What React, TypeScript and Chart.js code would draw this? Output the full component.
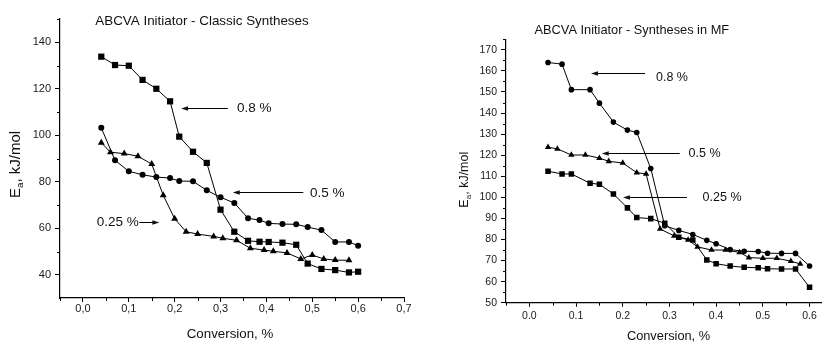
import React, { useEffect, useRef } from 'react';
import { Chart, registerables } from 'chart.js';

Chart.register(...registerables);

const FONT = "'Liberation Sans', Arial, Helvetica, sans-serif";

// ---------- Left chart: ABCVA Initiator - Classic Syntheses ----------
const classicX08 = [0.04, 0.07, 0.10, 0.13, 0.16, 0.19, 0.21, 0.24, 0.27, 0.30, 0.33, 0.36, 0.385, 0.405, 0.435, 0.465, 0.49, 0.52, 0.55, 0.58, 0.60];
const classicY08 = [133.8, 130.2, 129.9, 123.8, 120.0, 114.6, 99.4, 92.9, 88.1, 68.0, 58.5, 54.6, 54.2, 54.1, 53.8, 52.9, 44.8, 42.5, 42.0, 41.0, 41.3];
const classicX05 = [0.04, 0.07, 0.10, 0.13, 0.16, 0.19, 0.21, 0.24, 0.27, 0.30, 0.33, 0.36, 0.385, 0.405, 0.435, 0.465, 0.49, 0.52, 0.55, 0.58, 0.60];
const classicY05 = [103.2, 89.2, 84.5, 83.0, 82.0, 81.6, 80.3, 80.2, 76.3, 73.3, 70.9, 64.3, 63.5, 62.1, 61.8, 61.7, 60.5, 59.2, 54.1, 54.1, 52.5];
const classicX025 = [0.04, 0.06, 0.09, 0.12, 0.15, 0.175, 0.20, 0.225, 0.25, 0.285, 0.305, 0.335, 0.365, 0.395, 0.415, 0.445, 0.475, 0.50, 0.525, 0.55, 0.58];
const classicY025 = [96.8, 92.7, 92.1, 91.0, 87.6, 74.2, 64.1, 58.5, 57.5, 56.5, 55.7, 54.8, 51.4, 50.6, 50.1, 49.4, 46.8, 48.5, 46.8, 46.3, 46.2];
const classicXTicks = [0, 0.1, 0.2, 0.3, 0.4, 0.5, 0.6, 0.7];
const classicXMinor = [-0.05, 0.05, 0.15, 0.25, 0.35, 0.45, 0.55, 0.65];
const classicYTicks = [40, 60, 80, 100, 120, 140];
const classicYMinor = [50, 70, 90, 110, 130, 150];

// ---------- Right chart: ABCVA Initiator - Syntheses in MF ----------
const mfX08 = [0.04, 0.07, 0.09, 0.13, 0.15, 0.18, 0.21, 0.23, 0.26, 0.29, 0.32, 0.35, 0.38, 0.40, 0.43, 0.46, 0.49, 0.51, 0.54, 0.57, 0.60];
const mfY08 = [164.0, 163.2, 151.1, 151.1, 144.7, 135.7, 131.9, 130.8, 113.7, 86.5, 84.3, 82.4, 79.6, 78.0, 75.2, 74.4, 74.3, 73.5, 73.4, 73.4, 67.4];
const mfX05 = [0.04, 0.06, 0.09, 0.12, 0.15, 0.17, 0.20, 0.23, 0.25, 0.28, 0.31, 0.34, 0.36, 0.39, 0.42, 0.45, 0.47, 0.50, 0.53, 0.56, 0.58];
const mfY05 = [123.8, 123.0, 120.1, 120.1, 118.6, 117.1, 116.3, 111.7, 111.1, 85.0, 81.7, 79.8, 76.5, 75.0, 75.0, 73.9, 71.4, 71.1, 71.1, 69.7, 68.4];
const mfX025 = [0.04, 0.07, 0.09, 0.13, 0.15, 0.18, 0.21, 0.23, 0.26, 0.29, 0.32, 0.35, 0.38, 0.40, 0.43, 0.46, 0.49, 0.51, 0.54, 0.57, 0.60];
const mfY025 = [112.4, 111.1, 111.1, 106.7, 106.2, 101.6, 95.0, 90.4, 89.9, 87.7, 81.1, 79.8, 70.3, 68.5, 67.4, 66.8, 66.6, 66.1, 66.0, 66.0, 57.3];
const mfXTicks = [0, 0.1, 0.2, 0.3, 0.4, 0.5, 0.6];
const mfXMinor = [-0.05, 0.05, 0.15, 0.25, 0.35, 0.45, 0.55, 0.65];
const mfYTicks = [50, 60, 70, 80, 90, 100, 110, 120, 130, 140, 150, 160, 170];
const mfYMinor = [55, 65, 75, 85, 95, 105, 115, 125, 135, 145, 155, 165, 175];

// annotation labels (in data coordinates)
const classicNotes = [
  { text: '0.8 %', tx: 0.336, ty: 111.5, x1: 0.316, x2: 0.214, ay: 111.85 },
  { text: '0.5 %', tx: 0.495, ty: 75.2, x1: 0.4805, x2: 0.3266, ay: 75.4 },
  { text: '0.25 %', tx: 0.030, ty: 62.4, x1: 0.123, x2: 0.1666, ay: 62.9 },
];
const mfNotes = [
  { text: '0.8 %', tx: 0.2712, ty: 157.0, x1: 0.2476, x2: 0.132, ay: 158.9 },
  { text: '0.5 %', tx: 0.341, ty: 120.9, x1: 0.322, x2: 0.155, ay: 121.2 },
  { text: '0.25 %', tx: 0.371, ty: 99.8, x1: 0.3376, x2: 0.2005, ay: 100.3 },
];

const toPts = (xs: number[], ys: number[]) => xs.map((x, i) => ({ x, y: ys[i] }));

const decorPlugin = {
  id: 'decor',
  afterDraw(chart: any, _args: any, opts: any) {
    const { ctx, chartArea: area } = chart;
    const xs = chart.scales.x;
    const ys = chart.scales.y;
    ctx.save();
    // minor ticks
    ctx.strokeStyle = '#000';
    ctx.lineWidth = 1;
    ctx.beginPath();
    for (const v of opts.xMinor) {
      const px = Math.round(xs.getPixelForValue(v)) + 0.5;
      ctx.moveTo(px, area.bottom);
      ctx.lineTo(px, area.bottom + opts.minorLen);
    }
    for (const v of opts.yMinor) {
      const py = Math.round(ys.getPixelForValue(v)) + 0.5;
      ctx.moveTo(area.left, py);
      ctx.lineTo(area.left - opts.minorLen, py);
    }
    ctx.stroke();

    ctx.fillStyle = '#111';
    // chart title
    ctx.font = `${opts.titleSize}px ${FONT}`;
    ctx.textAlign = 'center';
    ctx.textBaseline = 'alphabetic';
    ctx.fillText(opts.title, opts.titleX, opts.titleY);
    // x axis title
    ctx.font = `${opts.xTitleSize}px ${FONT}`;
    ctx.fillText('Conversion, %', opts.xTitleX, opts.xTitleY);

    // y axis title with subscript
    ctx.save();
    ctx.translate(opts.yTitleX, opts.yTitleY);
    ctx.rotate(-Math.PI / 2);
    const f = opts.yTitleSize;
    const fs = f * 0.65;
    ctx.font = `${f}px ${FONT}`;
    const wE = ctx.measureText('E').width;
    const rest = ', kJ/mol';
    const wr = ctx.measureText(rest).width;
    ctx.font = `${fs}px ${FONT}`;
    const wa = ctx.measureText('a').width;
    const x0 = -(wE + wa + wr) / 2;
    ctx.textAlign = 'left';
    ctx.textBaseline = 'middle';
    ctx.font = `${f}px ${FONT}`;
    ctx.fillText('E', x0, 0);
    ctx.font = `${fs}px ${FONT}`;
    ctx.fillText('a', x0 + wE, f * 0.32);
    ctx.font = `${f}px ${FONT}`;
    ctx.fillText(rest, x0 + wE + wa, 0);
    ctx.restore();

    // annotations
    ctx.font = `${opts.noteSize}px ${FONT}`;
    ctx.textAlign = 'left';
    ctx.textBaseline = 'middle';
    for (const n of opts.notes) {
      const tx = xs.getPixelForValue(n.tx);
      const ty = ys.getPixelForValue(n.ty);
      ctx.fillText(n.text, tx, ty);
      const ax1 = xs.getPixelForValue(n.x1);
      const ax2 = xs.getPixelForValue(n.x2);
      const ay = Math.round(ys.getPixelForValue(n.ay)) + 0.5;
      const dir = Math.sign(ax2 - ax1);
      ctx.beginPath();
      ctx.moveTo(ax1, ay);
      ctx.lineTo(ax2 - dir * 5, ay);
      ctx.stroke();
      ctx.beginPath();
      ctx.moveTo(ax2, ay);
      ctx.lineTo(ax2 - dir * 7, ay - 2.3);
      ctx.lineTo(ax2 - dir * 7, ay + 2.3);
      ctx.closePath();
      ctx.fill();
    }
    ctx.restore();
  },
};

function seriesDS(data: any[], style: string, r: number) {
  return {
    data,
    showLine: true,
    borderColor: '#000',
    borderWidth: 1,
    backgroundColor: '#000',
    pointStyle: style,
    pointRadius: r,
    pointBorderWidth: 0,
    pointBackgroundColor: '#000',
    tension: 0,
  };
}

function makeConfig(p: any) {
  return {
    type: 'scatter',
    data: { datasets: p.datasets },
    plugins: [decorPlugin],
    options: {
      responsive: false,
      animation: false,
      events: [],
      layout: { padding: p.padding, autoPadding: false },
      plugins: {
        legend: { display: false },
        tooltip: { enabled: false },
        title: { display: false },
        decor: p.decor,
      },
      scales: {
        x: {
          type: 'linear',
          min: p.xMin,
          max: p.xMax,
          afterFit: (s: any) => { s.height = p.xHeight; s.paddingLeft = 0; s.paddingRight = 0; },
          afterBuildTicks: (s: any) => { s.ticks = p.xTicks.map((v: number) => ({ value: v })); },
          ticks: {
            callback: p.xFmt,
            font: { size: p.tickSize, family: FONT },
            color: '#1a1a1a',
            padding: p.xPad,
            maxRotation: 0,
            autoSkip: false,
          },
          grid: { drawOnChartArea: false, drawTicks: true, tickLength: 4, tickColor: '#000', tickWidth: 1 },
          border: { color: '#000', width: 1.2 },
        },
        y: {
          type: 'linear',
          min: p.yMin,
          max: p.yMax,
          afterFit: (s: any) => { s.width = p.yWidth; s.paddingTop = 0; s.paddingBottom = 0; },
          afterBuildTicks: (s: any) => { s.ticks = p.yTicks.map((v: number) => ({ value: v })); },
          ticks: {
            callback: (v: any) => String(v),
            font: { size: p.tickSize, family: FONT },
            color: '#1a1a1a',
            padding: 4,
            autoSkip: false,
          },
          grid: { drawOnChartArea: false, drawTicks: true, tickLength: 5, tickColor: '#000', tickWidth: 1 },
          border: { color: '#000', width: 1.2 },
        },
      },
    },
  };
}

export default function App() {
  const leftRef = useRef<HTMLCanvasElement>(null);
  const rightRef = useRef<HTMLCanvasElement>(null);

  useEffect(() => {
    const left = new Chart(leftRef.current as any, makeConfig({
      datasets: [
        seriesDS(toPts(classicX08, classicY08), 'rect', 4.4),
        seriesDS(toPts(classicX05, classicY05), 'circle', 3),
        seriesDS(toPts(classicX025, classicY025), 'triangle', 4),
      ],
      padding: { top: 19, right: 7, bottom: 0, left: 0 },
      xMin: -0.05, xMax: 0.7, yMin: 30, yMax: 150,
      xHeight: 44, yWidth: 60, xPad: 0, tickSize: 11,
      xTicks: classicXTicks, yTicks: classicYTicks,
      xFmt: (v: any) => Number(v).toFixed(1).replace('.', ','),
      decor: {
        xMinor: classicXMinor, yMinor: classicYMinor, minorLen: 3,
        title: 'ABCVA Initiator - Classic Syntheses', titleSize: 13.4, titleX: 202, titleY: 24.5,
        xTitleSize: 13.3, xTitleX: 230, xTitleY: 337.5,
        yTitleSize: 15, yTitleX: 16, yTitleY: 164.5,
        noteSize: 13.5, notes: classicNotes,
      },
    }) as any);

    const right = new Chart(rightRef.current as any, makeConfig({
      datasets: [
        seriesDS(toPts(mfX08, mfY08), 'circle', 2.8),
        seriesDS(toPts(mfX05, mfY05), 'triangle', 3.7),
        seriesDS(toPts(mfX025, mfY025), 'rect', 3.9),
      ],
      padding: { top: 39.3, right: 8.1, bottom: 0, left: 0 },
      xMin: -0.05, xMax: 0.65, yMin: 50, yMax: 175,
      xHeight: 39.3, yWidth: 95, xPad: 3, tickSize: 10.5,
      xTicks: mfXTicks, yTicks: mfYTicks,
      xFmt: (v: any) => Number(v).toFixed(1),
      decor: {
        xMinor: mfXMinor, yMinor: mfYMinor, minorLen: 3,
        title: 'ABCVA Initiator - Syntheses in MF', titleSize: 12.8, titleX: 220.8, titleY: 34,
        xTitleSize: 12.8, xTitleX: 257.5, xTitleY: 340,
        yTitleSize: 12.5, yTitleX: 54, yTitleY: 179.7,
        noteSize: 12.5, notes: mfNotes,
      },
    }) as any);

    return () => {
      left.destroy();
      right.destroy();
    };
  }, []);

  return (
    <div style={{ position: 'fixed', left: 0, top: 0, width: 822, height: 342, overflow: 'hidden', background: '#fff' }}>
      <canvas ref={leftRef} width={411} height={342} style={{ position: 'absolute', left: 0, top: 0, width: 411, height: 342 }} />
      <canvas ref={rightRef} width={430} height={342} style={{ position: 'absolute', left: 411, top: 0, width: 430, height: 342 }} />
    </div>
  );
}
